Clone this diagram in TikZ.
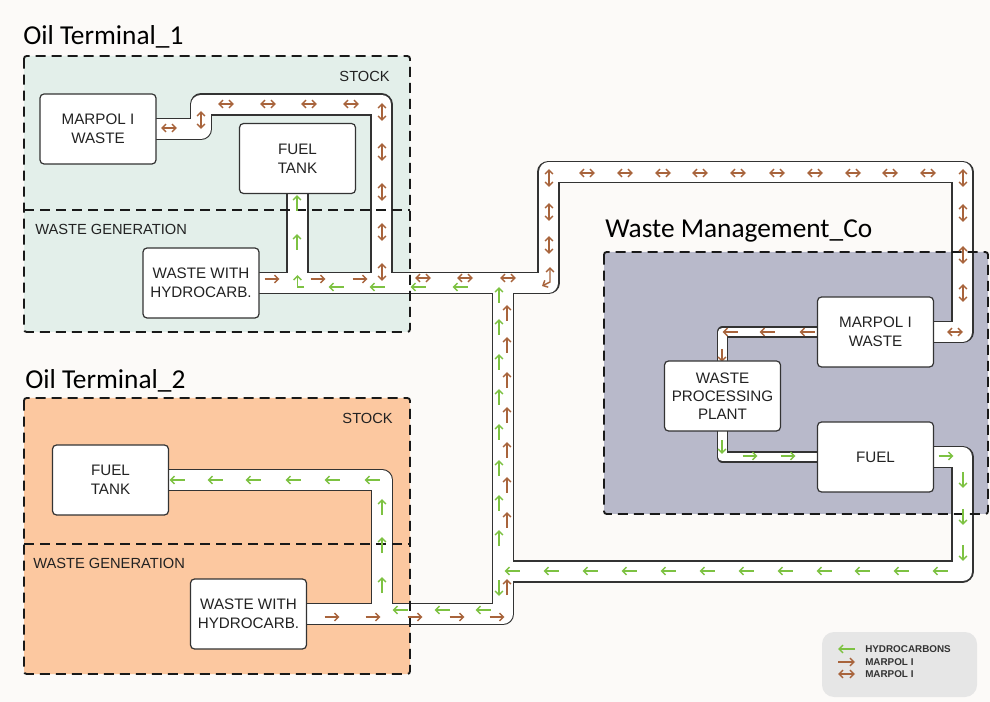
\documentclass[tikz,border=0pt]{standalone}
\usepackage{fontspec}
\setmainfont{Liberation Sans}
\newfontfamily\titlefont{Carlito}
\usetikzlibrary{arrows.meta}
\definecolor{bgc}{HTML}{FCFAF8}
\definecolor{tealc}{HTML}{E3EFEA}
\definecolor{orc}{HTML}{FCC8A0}
\definecolor{wmc}{HTML}{B8B9CA}
\definecolor{brc}{HTML}{A8643C}
\definecolor{grc}{HTML}{7DC242}
\definecolor{linec}{HTML}{333333}
\definecolor{legc}{HTML}{E6E6E6}
\definecolor{txtc}{HTML}{222222}
\pgfdeclarelayer{bg}
\pgfdeclarelayer{pb}
\pgfdeclarelayer{pw}
\pgfdeclarelayer{mid}
\pgfsetlayers{bg,pb,pw,mid,main}
\tikzset{
  boxst/.style={draw=linec, line width=0.9pt, fill=white, rounded corners=3pt,
    minimum width=87pt, minimum height=52.5pt, inner sep=0pt, outer sep=0pt,
    align=center, text=txtc, font=\fontsize{11.4}{14.2}\selectfont},
  titlest/.style={font=\titlefont\fontsize{20.5}{24}\selectfont, anchor=base west, inner sep=0pt},
  zonelab/.style={font=\fontsize{11}{13}\selectfont, inner sep=0pt, text=txtc},
  zone/.style={draw=black!90, line width=1.4pt, dash pattern=on 7.5pt off 4.5pt, rounded corners=2pt},
  pipeb/.style={line width=16.9pt, draw=linec, line join=round},
  pipew/.style={line width=14.6pt, draw=white, line join=round},
  npipeb/.style={line width=8.6pt, draw=linec, line join=round},
  npipew/.style={line width=6.4pt, draw=white, line join=round},
  fb/.style={draw=brc, line width=1.1pt, >={Straight Barb[length=3pt,width=5.8pt]}},
  fg/.style={draw=grc, line width=1.1pt, >={Straight Barb[length=3pt,width=5.8pt]}},
  legt/.style={font=\bfseries\fontsize{7.4}{9}\selectfont, text=black!80, anchor=west, inner sep=0pt},
}
\newcommand\widepipes[1]{%
  \draw[#1] (m1.east) -| (c1) -- (c2) -- (j1);
  \draw[#1] (w1.east) -- (c3) -- (c4) -- (c5) |- (m3.east);
  \draw[#1] (f1.south) -- (j4);
  \draw[#1] (j2) -- (c6) -- (w2.east);
  \draw[#1] (j3) -- (c7) -- (f2.east);
  \draw[#1] (fu3.east) -| (c8) -- (j5);
}
\newcommand\narrowpipes[1]{%
  \draw[#1] (m3.west) -| (p3.north);
  \draw[#1] (p3.south) |- (fu3.west);
}
\begin{document}
\begin{tikzpicture}[x=0.75pt,y=-0.75pt]
\useasboundingbox (0,0) rectangle (990,702);

% boxes
\node[boxst] (m1) at (98,129) {MARPOL I\\WASTE};
\node[boxst] (f1) at (297.5,158.5) {FUEL\\TANK};
\node[boxst] (w1) at (201,283) {WASTE WITH\\HYDROCARB.};
\node[boxst] (f2) at (110.5,480) {FUEL\\TANK};
\node[boxst] (w2) at (248.5,614) {WASTE WITH\\HYDROCARB.};
\node[boxst] (m3) at (875.5,332) {MARPOL I\\WASTE};
\node[boxst, font=\fontsize{11.4}{13.6}\selectfont] (p3) at (722.5,396) {WASTE\\PROCESSING\\PLANT};
\node[boxst] (fu3) at (875.5,457) {FUEL};

% pipe coordinates
\coordinate (c1) at (201,104.5);
\coordinate (c2) at (381.5,104.5);
\coordinate (j1) at (381.5,283);
\coordinate (j4) at (297.5,283);
\coordinate (c3) at (548.5,283);
\coordinate (c4) at (548.5,172);
\coordinate (c5) at (962.5,172);
\coordinate (j2) at (503,283);
\coordinate (c6) at (503,614);
\coordinate (j3) at (382,614);
\coordinate (c7) at (382,480);
\coordinate (c8) at (962.5,571.5);
\coordinate (j5) at (503,571.5);

\begin{pgfonlayer}{bg}
  \fill[bgc] (0,0) rectangle (990,702);
  \fill[tealc, rounded corners=2pt] (24,56) rectangle (410,332);
  \fill[orc, rounded corners=2pt] (24,398) rectangle (410,674);
  \fill[wmc, rounded corners=2pt] (604,252) rectangle (988,514);
  \node[fill=legc, rounded corners=9pt, minimum width=116.25pt, minimum height=48.75pt, inner sep=0pt] (leg) at (899.5,664.5) {};
\end{pgfonlayer}

\begin{pgfonlayer}{pb}
  \widepipes{pipeb}
  \narrowpipes{npipeb}
\end{pgfonlayer}
\begin{pgfonlayer}{pw}
  \widepipes{pipew}
  \narrowpipes{npipew}
\end{pgfonlayer}

\begin{pgfonlayer}{mid}
  % zones
  \draw[zone] (24,56) rectangle (410,332);
  \draw[zone] (24,210) -- (410,210);
  \draw[zone] (24,398) rectangle (410,674);
  \draw[zone] (24,544) -- (410,544);
  \draw[zone] (604,252) rectangle (988,514);

  % brown double horizontal
  \foreach \x/\y in {169/128, 226/104, 268/104, 309/104, 351/104,
      423/278, 465/278, 508/278,
      587/173, 625/173, 663/173, 700/173, 738/173, 777/173, 815/173, 853/173, 890/173, 928/173,
      955/332}
    \draw[fb,<->] (\x-8,\y) -- (\x+8,\y);
  % brown double vertical
  \foreach \x/\y in {201/120, 382/112, 382/152, 382/192, 382/232, 382/272,
      549/178, 549/212, 549/245,
      963/178, 963/213, 963/255, 963/293}
    \draw[fb,<->] (\x,\y-9) -- (\x,\y+9);
  \draw[fb,<->] (550,267) -- (550,282) -- (542,286);
  % brown right
  \foreach \x/\y in {272/279, 318/279, 360/279, 332/617, 373/617, 415/617, 457/617, 497/617}
    \draw[fb,->] (\x-7.5,\y) -- (\x+7.5,\y);
  % brown left
  \foreach \x/\y in {730/332, 767/332, 807/332}
    \draw[fb,->] (\x+7.5,\y) -- (\x-7.5,\y);
  \draw[fb,->] (722,349) -- (722,362);
  % brown up
  \foreach \y in {313,345,380,415,450,485,520,587}
    \draw[fb,->] (507,\y+8) -- (507,\y-8);

  % green left
  \foreach \x/\y in {336/287, 377/287, 418/287, 460/287,
      177/480, 215/480, 253/480, 293/480, 332/480, 372/480,
      400/610, 442/610, 483/610,
      512/571, 551/571, 590/571, 629/571, 668/571, 707/571, 746/571, 785/571, 824/571, 862/571, 901/571, 940/571}
    \draw[fg,->] (\x+7.5,\y) -- (\x-7.5,\y);
  % green up
  \foreach \x/\y in {297/203, 297/242,
      499/295, 499/327, 499/362, 499/397, 499/432, 499/468, 499/503, 499/538,
      382/507, 382/545, 382/585}
    \draw[fg,->] (\x,\y+8) -- (\x,\y-8);
  \draw[fg,->] (304,287) -- (297.5,287) -- (297.5,275);
  % green down
  \foreach \x/\y in {499/588, 963/480, 963/517, 963/553}
    \draw[fg,->] (\x,\y-8) -- (\x,\y+8);
  \draw[fg,->] (722,440) -- (722,454);
  % green right
  \foreach \x/\y in {750/456, 788/456, 946/456}
    \draw[fg,->] (\x-7.5,\y) -- (\x+7.5,\y);
\end{pgfonlayer}

% titles and zone labels
\node[titlest] (t1) at (23,45) {Oil Terminal\_1};
\node[titlest] (t2) at (25,389) {Oil Terminal\_2};
\node[titlest] (t3) at (605,238) {Waste Management\_Co};
\node[zonelab, anchor=base east] (s1) at (390,82) {STOCK};
\node[zonelab, anchor=base west] (g1) at (35,235) {WASTE GENERATION};
\node[zonelab, anchor=base east] (s2) at (393,424) {STOCK};
\node[zonelab, anchor=base west] (g2) at (33,568) {WASTE GENERATION};

% legend
\node[legt] (l1) at (865,649) {HYDROCARBONS};
\node[legt] (l2) at (865,662) {MARPOL I};
\node[legt] (l3) at (865,674) {MARPOL I};
\draw[fg,->] (855,649) -- (838,649);
\draw[fb,->] (838,662) -- (855,662);
\draw[fb,<->] (838,674) -- (855,674);
\end{tikzpicture}
\end{document}
